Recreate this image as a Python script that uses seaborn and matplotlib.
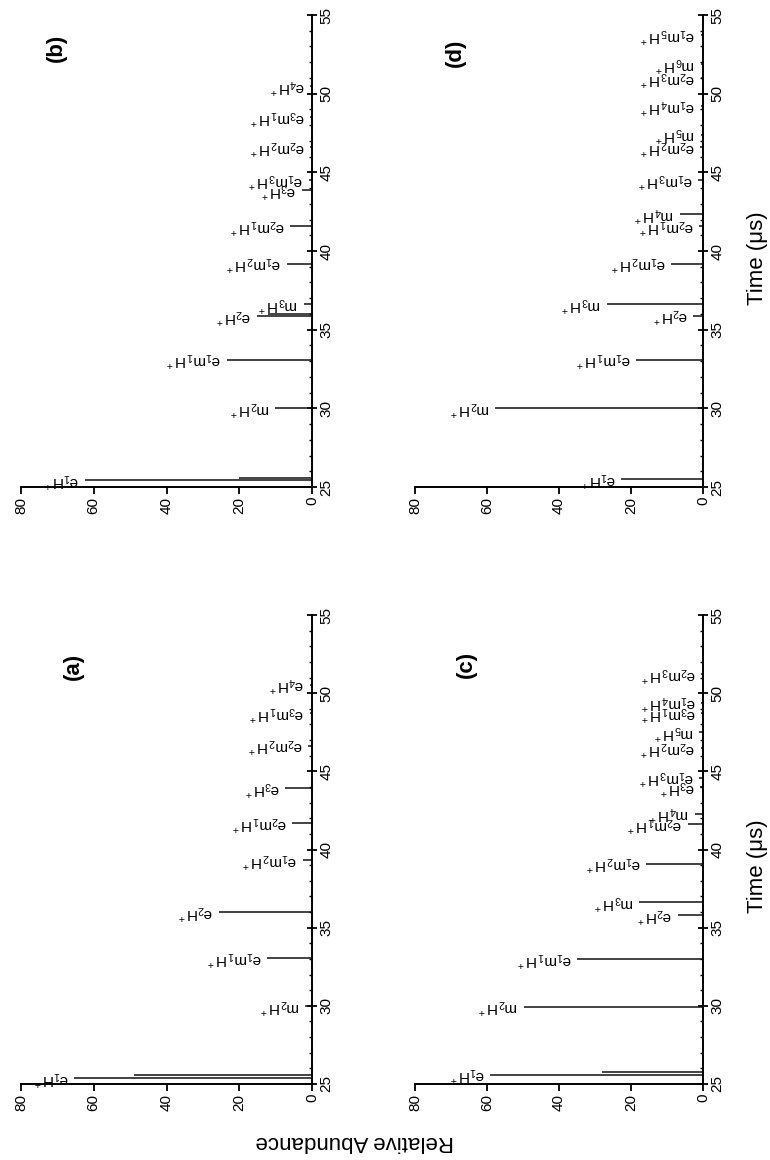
import matplotlib
matplotlib.use("Agg")
import matplotlib.pyplot as plt
from matplotlib.ticker import MultipleLocator
import seaborn as sns
import pandas as pd

# peak times (us), relative abundances and ion labels, one set per panel
t_a = [25.4, 25.6, 30.0, 33.05, 36.0, 39.3, 41.7, 43.95, 46.65, 48.75, 50.55]
h_a = [65.4, 49.0, 1.8, 12.3, 25.6, 2.5, 5.5, 7.3, 1.0, 0.6, 0.6]
lab_a = ['e$_1$H$^+$', '', 'm$_2$H$^+$', 'e$_1$m$_1$H$^+$', 'e$_2$H$^+$', 'e$_1$m$_2$H$^+$',
         'e$_2$m$_1$H$^+$', 'e$_3$H$^+$', 'e$_2$m$_2$H$^+$', 'e$_3$m$_1$H$^+$', 'e$_4$H$^+$']

t_b = [25.45, 25.6, 30.0, 33.1, 35.85, 36.0, 36.6, 39.2, 41.6, 43.85, 44.5, 46.6, 48.5, 50.5]
h_b = [62.5, 20.0, 10.1, 23.4, 15.2, 12.0, 2.3, 6.9, 6.0, 2.8, 0.9, 0.5, 0.5, 0.5]
lab_b = ['e$_1$H$^+$', '', 'm$_2$H$^+$', 'e$_1$m$_1$H$^+$', 'e$_2$H$^+$', '', 'm$_3$H$^+$',
         'e$_1$m$_2$H$^+$', 'e$_2$m$_1$H$^+$', 'e$_3$H$^+$', 'e$_1$m$_3$H$^+$', 'e$_2$m$_2$H$^+$',
         'e$_3$m$_1$H$^+$', 'e$_4$H$^+$']

t_c = [25.6, 25.75, 29.95, 33.0, 35.8, 36.65, 39.1, 41.6, 42.3, 44.0, 44.6, 46.5, 47.5, 48.7, 49.4, 51.2]
h_c = [59.1, 28.0, 49.8, 34.9, 7.0, 17.7, 15.8, 4.2, 2.3, 0.8, 1.0, 0.6, 1.0, 0.5, 0.5, 0.5]
lab_c = ['e$_1$H$^+$', '', 'm$_2$H$^+$', 'e$_1$m$_1$H$^+$', 'e$_2$H$^+$', 'm$_3$H$^+$',
         'e$_1$m$_2$H$^+$', 'e$_2$m$_1$H$^+$', 'm$_4$H$^+$', 'e$_3$H$^+$', 'e$_1$m$_3$H$^+$',
         'e$_2$m$_2$H$^+$', 'm$_5$H$^+$', 'e$_3$m$_1$H$^+$', 'e$_1$m$_4$H$^+$', 'e$_2$m$_3$H$^+$']

t_d = [25.5, 30.0, 33.1, 35.9, 36.65, 39.2, 41.6, 42.35, 44.5, 46.6, 47.4, 49.2, 51.0, 51.9, 53.7]
h_d = [22.7, 57.8, 18.5, 2.8, 26.8, 8.8, 1.0, 6.5, 1.4, 0.8, 0.6, 0.6, 0.6, 0.6, 0.6]
lab_d = ['e$_1$H$^+$', 'm$_2$H$^+$', 'e$_1$m$_1$H$^+$', 'e$_2$H$^+$', 'm$_3$H$^+$', 'e$_1$m$_2$H$^+$',
         'e$_2$m$_1$H$^+$', 'm$_4$H$^+$', 'e$_1$m$_3$H$^+$', 'e$_2$m$_2$H$^+$', 'm$_5$H$^+$',
         'e$_1$m$_4$H$^+$', 'e$_2$m$_3$H$^+$', 'm$_6$H$^+$', 'e$_1$m$_5$H$^+$']

time_ticks = [25, 30, 35, 40, 45, 50, 55]
abund_ticks = [0, 20, 40, 60, 80]

sns.set_theme(style="ticks")
plt.rcParams['font.family'] = ['Liberation Sans', 'DejaVu Sans']
plt.rcParams['mathtext.fontset'] = 'custom'
plt.rcParams['mathtext.rm'] = 'Liberation Sans'
plt.rcParams['mathtext.it'] = 'Liberation Sans:italic'
plt.rcParams['mathtext.default'] = 'regular'

W, H = 770, 1160
fig = plt.figure(figsize=(W / 100, H / 100), dpi=100)
fig.patch.set_facecolor('white')

# page is turned a quarter turn: time runs upward, abundance runs leftward
# pixel boxes: (x of 80, x of 0, y of 25, y of 55)
panels = [
    ('(a)', t_a, h_a, lab_a, (21, 312, 1084, 615), (0.18, 0.89)),
    ('(b)', t_b, h_b, lab_b, (21, 312, 487, 15), (0.12, 0.93)),
    ('(c)', t_c, h_c, lab_c, (415, 703, 1084, 615), (0.18, 0.895)),
    ('(d)', t_d, h_d, lab_d, (415, 703, 487, 15), (0.14, 0.92)),
]

for name, tt, hh, labs, (x0, x1, y0, y1), (px, py) in panels:
    ax = fig.add_axes([x0 / W, 1 - y0 / H, (x1 - x0) / W, (y0 - y1) / H])
    df = pd.DataFrame({'time': tt, 'abund': hh, 'label': labs})
    ax.hlines(df['time'], 0, df['abund'], color='#111111', lw=1.1)
    for _, r in df.iterrows():
        if r['label']:
            ax.text(r['abund'] + 1.5, r['time'], r['label'], rotation=180,
                    ha='right', va='center', fontsize=11, color='black')
    ax.set_xlim(80, 0)
    ax.set_ylim(25, 55)
    ax.set_facecolor('none')
    ax.grid(False)
    sns.despine(ax=ax, top=True, right=False, left=True, bottom=False)
    ax.yaxis.tick_right()
    ax.set_xticks(abund_ticks)
    ax.set_yticks(time_ticks)
    ax.yaxis.set_minor_locator(MultipleLocator(1))
    for s in ('right', 'bottom'):
        ax.spines[s].set_color('black')
        ax.spines[s].set_linewidth(1.4)
    ax.tick_params(axis='x', direction='out', length=5, width=1.3, labelsize=11,
                   labelrotation=90, pad=2, colors='black')
    ax.tick_params(axis='y', which='major', direction='inout', length=7, width=1.3,
                   labelsize=11, labelrotation=90, pad=2, colors='black')
    ax.tick_params(axis='y', which='minor', direction='in', length=2.5, width=1,
                   colors='black')
    for lbl in ax.get_yticklabels():
        lbl.set_va('center')
    ax.text(px, py, name, transform=ax.transAxes, rotation=90, ha='center',
            va='center', fontsize=16, fontweight='bold', color='black')

fig.text(757 / W, 1 - 258 / H, 'Time (μs)', rotation=90, ha='center', va='center',
         fontsize=16, color='black')
fig.text(757 / W, 1 - 866 / H, 'Time (μs)', rotation=90, ha='center', va='center',
         fontsize=16, color='black')
fig.text(355 / W, 1 - 1142 / H, 'Relative Abundance', rotation=180, ha='center',
         va='center', fontsize=16, color='black')

fig.savefig('out.png', dpi=100)
